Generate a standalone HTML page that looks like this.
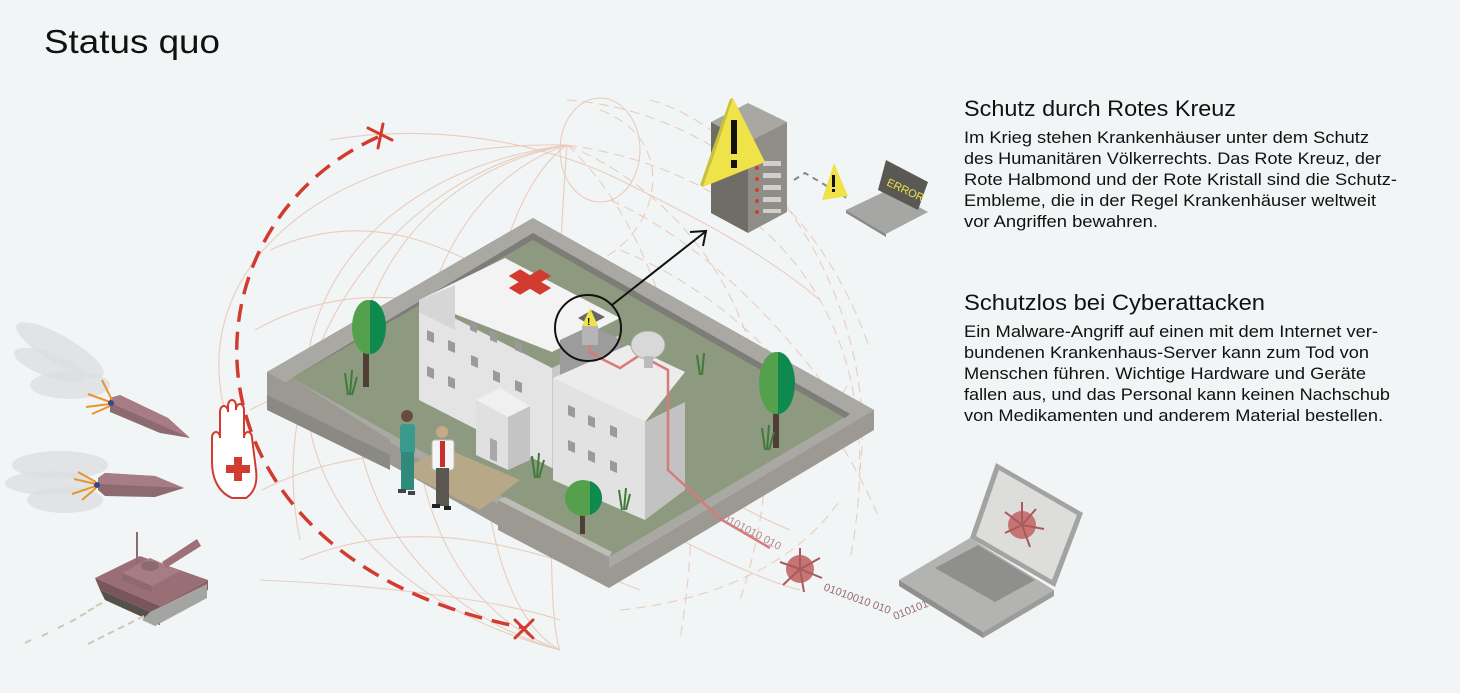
<!DOCTYPE html>
<html><head><meta charset="utf-8"><style>
html,body{margin:0;padding:0;background:#f2f5f6;}
svg{display:block;}
text{font-family:"Liberation Sans",sans-serif;fill:#111;}
</style></head><body>
<svg width="1460" height="693" viewBox="0 0 1460 693" xmlns="http://www.w3.org/2000/svg">
<rect width="1460" height="693" fill="#f2f5f6"/>

<!-- Globe lines -->
<g fill="none" stroke="#e6bfa9" stroke-width="1.1" opacity="0.75">
  <path d="M567,145 C230,190 210,560 560,650"/>
  <path d="M567,145 C290,200 280,570 560,650"/>
  <path d="M567,145 C370,210 360,580 560,650"/>
  <path d="M567,145 C460,220 450,590 560,650"/>
  <path d="M567,145 C560,240 540,600 560,650"/>
  <path d="M567,145 C300,140 150,300 250,470"/>
  <path d="M567,145 C400,170 260,350 300,540"/>
  <ellipse cx="600" cy="150" rx="40" ry="52"/>
  <path d="M270,250 C380,200 470,260 520,290 C600,340 640,400 700,420"/>
  <path d="M255,330 C380,260 500,320 560,350 C640,390 700,440 760,470"/>
  <path d="M250,410 C380,340 520,390 600,430 C680,470 740,510 790,530"/>
  <path d="M262,490 C400,420 540,470 620,510 C700,550 760,580 800,590"/>
  <path d="M300,560 C420,510 540,550 640,590"/>
  <path d="M330,140 C450,120 560,150 620,180 C700,220 760,250 820,300"/>
  <path d="M260,580 C380,585 500,600 560,620"/>
</g>
<g fill="none" stroke="#e9c3ad" stroke-width="1.1" stroke-dasharray="10,6" opacity="0.8">
  <path d="M567,145 C750,170 900,300 850,560"/>
  <path d="M567,145 C700,200 820,360 740,600"/>
  <path d="M567,145 C650,220 720,400 680,640"/>
  <path d="M567,100 C700,110 820,200 870,350"/>
  <path d="M650,100 C760,130 880,300 860,470"/>
  <path d="M600,110 C680,140 660,230 600,260"/>
  <path d="M610,200 C700,240 780,320 850,420"/>
  <path d="M620,250 C720,290 820,380 880,520"/>
  <path d="M700,520 C780,480 830,420 850,380"/>
  <path d="M620,610 C720,600 800,560 840,500"/>
</g>

<!-- Red dashed protection arc -->
<path d="M378,137 C170,230 170,560 525,628" fill="none" stroke="#d23b30" stroke-width="3.5" stroke-dasharray="18,10"/>
<g stroke="#d23b30" stroke-width="3" stroke-linecap="round">
  <line x1="368" y1="128" x2="392" y2="140"/><line x1="383" y1="124" x2="378" y2="148"/>
  <line x1="515" y1="620" x2="533" y2="638"/><line x1="533" y1="620" x2="515" y2="638"/>
</g>

<!-- Hospital compound wall -->
<polygon points="533,218 874,410 874,430 609,588 267,395 267,372" fill="#9b9992"/>
<polygon points="533,218 874,410 609,568 267,372" fill="#a9a8a2"/>
<polygon points="533,233 850,414 609,557 292,378" fill="#8e9a80"/>
<polygon points="533,233 850,414 845,418 533,240 292,378 292,378" fill="#7d7c77"/>
<polygon points="292,378 390,440 390,455 267,395" fill="#9b9992"/>
<polygon points="267,395 390,455 390,470 267,410" fill="#8a8984"/>
<polygon points="498,500 609,557 609,588 498,530" fill="#9b9992"/>
<polygon points="498,500 505,497 612,552 609,557" fill="#bdbcb7"/>
<polygon points="400,470 445,448 520,480 480,510" fill="#b7a888"/>

<!-- Building main wing -->
<polygon points="419,300 552,368 552,468 419,400" fill="#e4e4e4"/>
<polygon points="552,368 620,335 620,430 552,468" fill="#c9c9c9"/>
<polygon points="419,300 505,258 620,318 552,352" fill="#f3f3f3"/>
<polygon points="455,285 455,330 419,312 419,300" fill="#d6d6d6"/>
<g transform="translate(530,282) scale(1,0.6) rotate(45)" fill="#d23b30">
  <rect x="-22" y="-8" width="44" height="16"/><rect x="-8" y="-22" width="16" height="44"/>
</g>
<g fill="#9a9a9a">
  <polygon points="427,330 434,333 434,343 427,340"/><polygon points="448,340 455,343 455,353 448,350"/>
  <polygon points="470,320 477,323 477,333 470,330"/><polygon points="490,330 497,333 497,343 490,340"/>
  <polygon points="515,340 522,343 522,353 515,350"/><polygon points="471,355 478,358 478,368 471,365"/>
  <polygon points="427,366 434,369 434,379 427,376"/><polygon points="448,376 455,379 455,389 448,386"/>
  <polygon points="493,370 500,373 500,383 493,380"/><polygon points="515,380 522,383 522,393 515,390"/>
</g>
<polygon points="560,340 592,325 620,340 620,380 560,380" fill="#9c9c9c"/>
<polygon points="578,318 592,310 605,317 590,325" fill="#666"/>
<polygon points="582,326 598,326 598,345 582,345" fill="#b5b5b5"/>
<polygon points="590,308 598,326 582,326" fill="#f0e34a"/>
<text x="587" y="325" font-size="10" font-weight="bold">!</text>
<!-- Block B -->
<polygon points="553,378 645,422 645,520 553,480" fill="#e2e2e2"/>
<polygon points="645,422 685,402 685,490 645,520" fill="#c2c2c2"/>
<polygon points="553,378 628,345 685,372 645,422" fill="#ececec"/>
<g fill="#9a9a9a">
  <polygon points="568,405 575,408 575,418 568,415"/><polygon points="588,415 595,418 595,428 588,425"/>
  <polygon points="610,425 617,428 617,438 610,435"/><polygon points="568,440 575,443 575,453 568,450"/>
  <polygon points="588,450 595,453 595,463 588,460"/><polygon points="610,460 617,463 617,473 610,470"/>
</g>
<!-- Block C -->
<polygon points="476,400 508,417 508,470 476,455" fill="#e0e0e0"/>
<polygon points="508,417 530,406 530,460 508,470" fill="#c4c4c4"/>
<polygon points="476,400 500,388 530,406 508,417" fill="#f0f0f0"/>
<polygon points="490,438 497,441 497,462 490,459" fill="#a8a8a8"/>
<path d="M590,345 L590,352 L600,358 L620,368 L640,355 L668,370 L668,470 L722,520 L770,548" fill="none" stroke="#d87a7a" stroke-width="2.5"/>
<ellipse cx="648" cy="345" rx="17" ry="14" fill="#d8d8d8" stroke="#aaa"/>
<rect x="644" y="356" width="9" height="12" fill="#bbb"/>
<circle cx="588" cy="328" r="33" fill="none" stroke="#111" stroke-width="2"/>
<line x1="612" y1="305" x2="705" y2="232" stroke="#111" stroke-width="2"/>
<polyline points="690,232 706,231 703,246" fill="none" stroke="#111" stroke-width="2"/>

<!-- trees -->
<g>
  <rect x="363" y="340" width="6" height="47" fill="#4d3f35"/>
  <ellipse cx="368" cy="327" rx="16" ry="27" fill="#55a04c"/>
  <path d="M370,300 A16,27 0 0 1 370,354 Z" fill="#0e8a4e"/>
  <rect x="773" y="400" width="6" height="48" fill="#4d3f35"/>
  <ellipse cx="776" cy="383" rx="17" ry="31" fill="#55a04c"/>
  <path d="M778,352 A17,31 0 0 1 778,414 Z" fill="#0e8a4e"/>
  <rect x="580" y="510" width="5" height="24" fill="#4d3f35"/>
  <circle cx="583" cy="498" r="18" fill="#55a04c"/>
  <path d="M590,481 A18,18 0 0 1 590,515 Z" fill="#0e8a4e"/>
</g>
<g stroke="#3f7a38" stroke-width="2" fill="none">
  <path d="M348,395 l-3,-22 M350,395 l2,-25 M352,395 l5,-18"/>
  <path d="M535,478 l-3,-22 M537,478 l2,-25 M539,478 l5,-18"/>
  <path d="M700,375 l-3,-20 M702,375 l2,-22"/>
  <path d="M765,450 l-3,-22 M767,450 l2,-25 M769,450 l5,-18"/>
  <path d="M622,510 l-3,-20 M624,510 l2,-22 M626,510 l4,-16"/>
</g>
<g>
  <circle cx="407" cy="416" r="6" fill="#6a4a3a"/>
  <rect x="400" y="424" width="15" height="30" rx="3" fill="#3a9a8c"/>
  <rect x="401" y="452" width="13" height="38" fill="#2f8a7c"/>
  <rect x="398" y="489" width="8" height="4" fill="#444"/><rect x="408" y="491" width="7" height="4" fill="#444"/>
  <circle cx="442" cy="432" r="6" fill="#c9a888"/>
  <rect x="432" y="440" width="22" height="30" rx="3" fill="#f5f5f5" stroke="#bbb"/>
  <rect x="440" y="441" width="5" height="26" fill="#c8302e"/>
  <rect x="436" y="468" width="13" height="38" fill="#5a5650"/>
  <rect x="432" y="504" width="8" height="4" fill="#222"/><rect x="444" y="506" width="7" height="4" fill="#222"/>
</g>

<!-- Hand with cross -->
<path d="M232,498 C218,492 212,478 212,462 L212,438 C212,430 220,430 220,438 L220,412 C220,404 228,404 228,412 L228,406 C228,398 236,398 236,406 L236,410 C236,402 244,402 244,410 L244,438 C244,430 252,430 252,438 L256,470 C258,486 252,494 246,498 Z" fill="#fff" stroke="#d23b30" stroke-width="2"/>
<g fill="#d23b30"><rect x="226" y="465" width="24" height="8"/><rect x="234" y="457" width="8" height="24"/></g>

<!-- missiles -->
<g>
  <ellipse cx="60" cy="350" rx="50" ry="14" fill="#dcdfe1" opacity="0.8" transform="rotate(30 60 350)"/>
  <ellipse cx="50" cy="365" rx="38" ry="12" fill="#dcdfe1" opacity="0.8" transform="rotate(20 50 365)"/>
  <ellipse cx="70" cy="385" rx="40" ry="14" fill="#dcdfe1" opacity="0.8"/>
  <polygon points="110,398 120,395 168,418 190,438 160,433 110,412" fill="#8c6a70"/>
  <polygon points="110,398 120,395 168,418 190,438 115,405" fill="#a77c84"/>
  <path d="M110,402 l-22,-8 M110,404 l-24,3 M112,400 l-10,-20 M110,406 l-18,8" stroke="#e8952c" stroke-width="2"/>
  <circle cx="111" cy="403" r="3" fill="#334a8a"/>
  <ellipse cx="60" cy="465" rx="48" ry="14" fill="#dcdfe1" opacity="0.8"/>
  <ellipse cx="50" cy="483" rx="45" ry="12" fill="#dcdfe1" opacity="0.8"/>
  <ellipse cx="65" cy="500" rx="38" ry="13" fill="#dcdfe1" opacity="0.8"/>
  <polygon points="98,478 105,473 155,476 184,488 155,497 105,496 98,490" fill="#8c6a70"/>
  <polygon points="98,478 105,473 155,476 184,488 98,484" fill="#a77c84"/>
  <path d="M96,484 l-22,-5 M96,486 l-24,8 M96,482 l-18,-10 M96,488 l-14,12" stroke="#e8952c" stroke-width="2"/>
  <circle cx="97" cy="485" r="3" fill="#334a8a"/>
</g>
<!-- tank -->
<g>
  <polygon points="95,578 140,556 208,580 160,606" fill="#9a6e75"/>
  <polygon points="95,578 160,606 160,616 100,590" fill="#7a565c"/>
  <polygon points="160,606 208,580 208,590 160,616" fill="#8a6268"/>
  <polygon points="100,590 160,616 160,625 105,600" fill="#55504a"/>
  <polygon points="150,612 207,584 207,598 155,626 142,620" fill="#a4a4a2"/>
  <polygon points="122,573 150,558 180,571 152,586" fill="#a77c84"/>
  <polygon points="122,573 152,586 152,592 122,580" fill="#8c6a70"/>
  <ellipse cx="150" cy="566" rx="9" ry="5" fill="#8c6a70"/>
  <polygon points="162,562 197,539 201,546 166,568" fill="#a07079"/>
  <line x1="137" y1="532" x2="137" y2="562" stroke="#8c6a70" stroke-width="2"/>
  <g stroke="#d2c5b8" stroke-width="2">
    <path d="M25,643 l6,-3 M42,636 l6,-3 M58,628 l6,-3 M70,622 l6,-3 M80,616 l6,-3 M88,611 l6,-3 M96,606 l6,-3"/>
    <path d="M88,644 l6,-3 M98,639 l6,-3 M108,634 l6,-3 M118,629 l6,-3 M128,624 l6,-3 M138,619 l6,-3"/>
  </g>
</g>

<!-- Server -->
<polygon points="711,122 748,142 748,233 711,213" fill="#6f6d66"/>
<polygon points="748,142 787,122 787,212 748,233" fill="#8f8d86"/>
<polygon points="711,122 748,103 787,122 748,142" fill="#a8a7a1"/>
<g fill="#cfcfcf"><rect x="763" y="161" width="18" height="5"/><rect x="763" y="173" width="18" height="5"/><rect x="763" y="185" width="18" height="5"/><rect x="763" y="197" width="18" height="5"/><rect x="763" y="209" width="18" height="4"/></g>
<g fill="#d23b30"><circle cx="757" cy="168" r="2"/><circle cx="757" cy="179" r="2"/><circle cx="757" cy="190" r="2"/><circle cx="757" cy="201" r="2"/><circle cx="757" cy="212" r="2"/></g>
<polygon points="733,98 765,162 703,187" fill="#f0e34a"/>
<polygon points="733,98 703,187 700,185 730,99" fill="#c9c23a"/>
<rect x="731" y="120" width="6" height="34" fill="#111"/><rect x="731" y="160" width="6" height="8" fill="#111"/>
<polyline points="794,180 805,173 850,200" fill="none" stroke="#888" stroke-width="2" stroke-dasharray="6,5"/>
<polygon points="834,163 848,196 822,200" fill="#f0e34a"/>
<rect x="832" y="175" width="3" height="12" fill="#111"/><rect x="832" y="189" width="3" height="3" fill="#111"/>
<polygon points="846,210 888,190 928,212 886,234" fill="#a6a6a4"/>
<polygon points="846,210 886,234 886,237 846,213" fill="#8a8a88"/>
<polygon points="878,190 886,160 928,182 918,210" fill="#5a5852"/>
<text x="886" y="185" font-size="11" style="fill:#f0e34a" transform="rotate(25 886 185)" font-family="Liberation Mono">ERROR</text>

<!-- binary + virus -->
<text x="722" y="520" font-size="11" style="fill:#b88a8a" transform="rotate(28 722 520)">0101010 010</text>
<g fill="#c77474">
  <circle cx="800" cy="569" r="14"/>
  <g stroke="#a85a5e" stroke-width="2"><line x1="800" y1="569" x2="800" y2="548"/><line x1="800" y1="569" x2="820" y2="558"/><line x1="800" y1="569" x2="822" y2="578"/><line x1="800" y1="569" x2="804" y2="592"/><line x1="800" y1="569" x2="783" y2="585"/><line x1="800" y1="569" x2="780" y2="562"/></g>
</g>
<text x="823" y="590" font-size="11" style="fill:#9a6a6e" transform="rotate(20 823 590)">01010010 010</text>
<text x="895" y="620" font-size="11" style="fill:#9a6a6e" transform="rotate(-22 895 620)">0101010011</text>
<polygon points="899,580 970,538 1054,590 983,632" fill="#b3b3b1"/>
<polygon points="899,580 983,632 983,638 899,586" fill="#8f8f8d"/>
<polygon points="983,632 1054,590 1054,596 983,638" fill="#9c9c9a"/>
<polygon points="935,568 978,545 1035,580 995,602" fill="#8f8f8d"/>
<polygon points="970,538 996,463 1083,513 1055,587" fill="#a3a3a1"/>
<polygon points="976,536 999,470 1077,515 1052,580" fill="#dddddb"/>
<g fill="#c77474"><circle cx="1022" cy="525" r="14"/>
  <g stroke="#a85a5e" stroke-width="2"><line x1="1022" y1="525" x2="1022" y2="502"/><line x1="1022" y1="525" x2="1044" y2="529"/><line x1="1022" y1="525" x2="1005" y2="533"/><line x1="1022" y1="525" x2="1030" y2="547"/><line x1="1022" y1="525" x2="1005" y2="512"/><line x1="1022" y1="525" x2="1036" y2="509"/></g></g>

<!-- Texts -->
<text x="44" y="53" font-size="33" textLength="176" lengthAdjust="spacingAndGlyphs">Status quo</text>
<text x="964" y="116" font-size="22" textLength="272" lengthAdjust="spacingAndGlyphs">Schutz durch Rotes Kreuz</text>
<g font-size="16.5">
<text x="964" y="143" textLength="405" lengthAdjust="spacingAndGlyphs">Im Krieg stehen Krankenhäuser unter dem Schutz</text>
<text x="964" y="164" textLength="417" lengthAdjust="spacingAndGlyphs">des Humanitären Völkerrechts. Das Rote Kreuz, der</text>
<text x="964" y="185" textLength="433" lengthAdjust="spacingAndGlyphs">Rote Halbmond und der Rote Kristall sind die Schutz-</text>
<text x="964" y="206" textLength="412" lengthAdjust="spacingAndGlyphs">Embleme, die in der Regel Krankenhäuser weltweit</text>
<text x="964" y="227" textLength="194" lengthAdjust="spacingAndGlyphs">vor Angriffen bewahren.</text>
</g>
<text x="964" y="310" font-size="22" textLength="301" lengthAdjust="spacingAndGlyphs">Schutzlos bei Cyberattacken</text>
<g font-size="16.5">
<text x="964" y="337" textLength="414" lengthAdjust="spacingAndGlyphs">Ein Malware-Angriff auf einen mit dem Internet ver-</text>
<text x="964" y="358" textLength="405" lengthAdjust="spacingAndGlyphs">bundenen Krankenhaus-Server kann zum Tod von</text>
<text x="964" y="379" textLength="402" lengthAdjust="spacingAndGlyphs">Menschen führen. Wichtige Hardware und Geräte</text>
<text x="964" y="400" textLength="426" lengthAdjust="spacingAndGlyphs">fallen aus, und das Personal kann keinen Nachschub</text>
<text x="964" y="421" textLength="419" lengthAdjust="spacingAndGlyphs">von Medikamenten und anderem Material bestellen.</text>
</g>
</svg>
</body></html>
